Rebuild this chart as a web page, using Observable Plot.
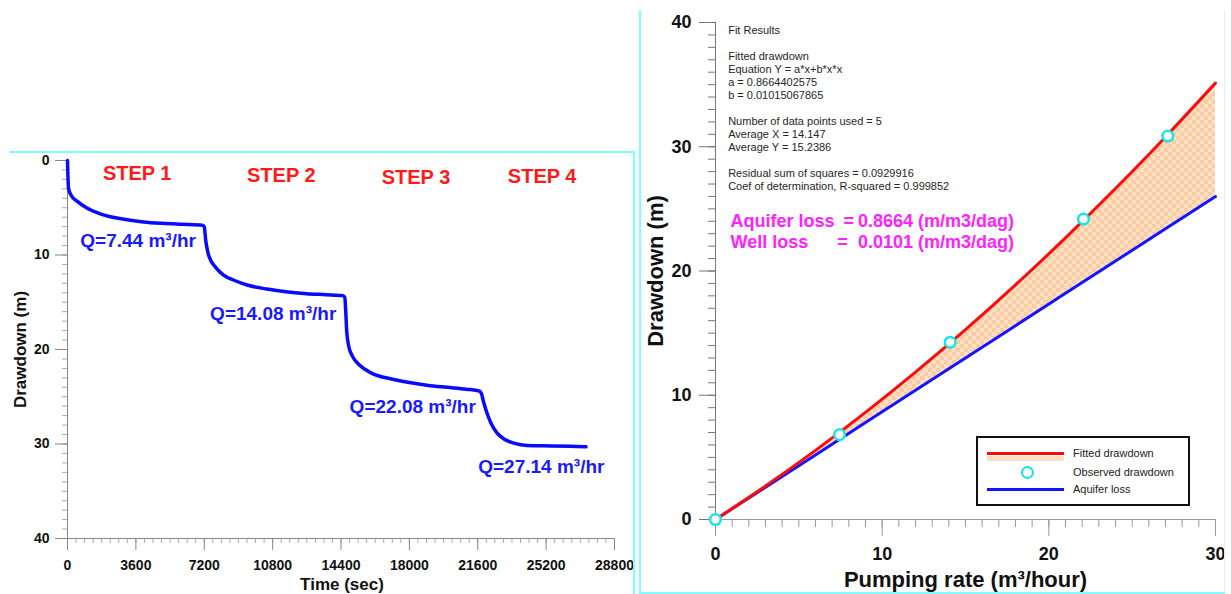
<!DOCTYPE html>
<html><head><meta charset="utf-8">
<script src="https://cdn.jsdelivr.net/npm/d3@7"></script>
<script src="https://cdn.jsdelivr.net/npm/@observablehq/plot@0.6"></script>
<style>
html,body{margin:0;padding:0;background:#fff;}
#wrap{position:relative;width:1231px;height:594px;overflow:hidden;font-family:"Liberation Sans",Arial,sans-serif;}
.panel{position:absolute;}
.bl{position:absolute;background:#7ffcfc;}
#legend{position:absolute;left:976px;top:436px;width:210px;height:66px;border:2px solid #111;background:#fff;}
#legend .sw{position:absolute;}
#legend .lt{position:absolute;left:95px;font-size:11px;color:#222;line-height:12px;}
</style></head><body><div id="wrap"></div>
<script>
// ---------- Left chart data (step drawdown test) ----------
const stepTime = [0,20,60,200,500,1000,1800,2900,4000,5000,6000,7100,7200,7280,7400,7550,7800,8200,8800,9500,10500,11500,12600,13600,14500,14600,14650,14700,14800,15000,15400,16000,17000,18000,19000,20000,21000,21700,21800,21900,22050,22300,22600,23000,23500,24200,25500,26500,27300];
const stepDrawdown = [0,1.5,3.0,3.7,4.3,5.0,5.7,6.2,6.5,6.65,6.75,6.85,7.0,8.5,9.8,10.6,11.3,12.1,12.7,13.2,13.6,13.9,14.1,14.2,14.3,14.5,16,18,19.6,20.7,21.7,22.5,23.1,23.5,23.8,24.0,24.2,24.4,24.7,25.5,26.5,27.8,28.8,29.5,29.9,30.15,30.2,30.25,30.3];
const stepNames = ["STEP 1","STEP 2","STEP 3","STEP 4"];
const stepNameTime = [3670,11257,18349,24989];
const stepNameDepth = [1.41,1.59,1.76,1.66];
const rateNames = ["Q=7.44 m³/hr","Q=14.08 m³/hr","Q=22.08 m³/hr","Q=27.14 m³/hr"];
const rateNameTime = [3717,10830,18176,24946];
const rateNameDepth = [8.47,16.2,26.1,32.45];
const timeTicks = [0,3600,7200,10800,14400,18000,21600,25200,28800];
const depthTicks = [0,10,20,30,40];

// ---------- Right chart data (fit) ----------
const pumpRate = [0,7.44,14.08,22.08,27.14];
const observedDrawdown = [0,6.83,14.27,24.18,30.86];
const fitRate = [0,3,6,9,12,15,18,21,24,27,30];
const fittedDrawdown = [0,2.69,5.56,8.62,11.86,15.28,18.88,22.67,26.64,30.79,35.13];
const aquiferLoss = [0,2.60,5.20,7.80,10.40,13.00,15.60,18.20,20.80,23.40,25.99];
const rateTicks = [0,10,20,30];
const drawTicks = [0,10,20,30,40];
const fitResultLines = ["Fit Results","","Fitted drawdown","Equation Y = a*x+b*x*x","a = 0.8664402575","b = 0.01015067865","","Number of data points used = 5","Average X = 14.147","Average Y = 15.2386","","Residual sum of squares = 0.0929916","Coef of determination, R-squared = 0.999852"];
const lossNames = ["Aquifer loss","Well loss"];
const lossValues = ["0.8664 (m/m3/dag)","0.0101 (m/m3/dag)"];
const legendNames = ["Fitted drawdown","Observed drawdown","Aquifer loss"];

const FONT = '"Liberation Sans",Arial,sans-serif';
const wrap = document.getElementById("wrap");

// ---------- Left chart ----------
const stepRows = stepTime.map((t,i)=>({t, d: stepDrawdown[i]}));
const stepLab = stepNames.map((s,i)=>({s, t: stepNameTime[i], d: stepNameDepth[i]}));
const rateLab = rateNames.map((s,i)=>({s, t: rateNameTime[i], d: rateNameDepth[i]}));

const left = Plot.plot({
  width: 634, height: 442,
  marginLeft: 67, marginRight: 20, marginTop: 8, marginBottom: 56,
  style: {fontFamily: FONT, background: "transparent", overflow: "visible", color: "#111"},
  x: {domain: [0, 28800]},
  y: {domain: [0, 40], reverse: true},
  marks: [
    Plot.axisY(d3.range(0, 41, 1), {tickSize: 5, text: null, stroke: "#aaa", label: null}),
    Plot.axisY(depthTicks, {tickSize: 12, tickPadding: 6, fontSize: 14, fontWeight: "bold", stroke: "#888", fill: "#111", label: null, tickFormat: d3.format("d")}),
    Plot.axisX(d3.range(0, 28801, 450), {tickSize: 5, text: null, stroke: "#aaa", label: null}),
    Plot.axisX(timeTicks, {tickSize: 12, tickPadding: 10, fontSize: 14, fontWeight: "bold", stroke: "#888", fill: "#111", label: null, tickFormat: d3.format("d")}),
    Plot.ruleX([0], {stroke: "#888"}),
    Plot.ruleY([40], {stroke: "#888"}),
    Plot.line(stepRows, {x: "t", y: "d", stroke: "#0a0aff", strokeWidth: 3.5, curve: "monotone-x"}),
    Plot.text(stepLab, {x: "t", y: "d", text: "s", fill: "#ff1a1a", fontSize: 20, fontWeight: "bold"}),
    Plot.text(rateLab, {x: "t", y: "d", text: "s", fill: "#1a1aff", fontSize: 19, fontWeight: "bold"}),
    Plot.text(["Drawdown (m)"], {frameAnchor: "left", textAnchor: "middle", lineAnchor: "middle", rotate: -90, dx: -47, fontSize: 17, fontWeight: "bold", fill: "#111"}),
    Plot.text(["Time (sec)"], {frameAnchor: "bottom", textAnchor: "middle", lineAnchor: "middle", dy: 46, dx: 1, fontSize: 17, fontWeight: "bold", fill: "#111"})
  ]
});
const lp = document.createElement("div");
lp.className = "panel"; lp.style.left = "0px"; lp.style.top = "152px";
lp.appendChild(left); wrap.appendChild(lp);

// ---------- Right chart ----------
const fitRows = fitRate.map((q,i)=>({q, fit: fittedDrawdown[i], aq: aquiferLoss[i]}));
const obsRows = pumpRate.map((q,i)=>({q, d: observedDrawdown[i]}));
const lossRows = lossNames.map((n,i)=>({n, v: lossValues[i], y: [23.98, 22.29][i], eq: [7.68, 7.3][i]}));

const right = Plot.plot({
  width: 591, height: 594,
  marginLeft: 75, marginRight: 16, marginTop: 22, marginBottom: 75,
  style: {fontFamily: FONT, background: "transparent", overflow: "visible", color: "#111"},
  x: {domain: [0, 30]},
  y: {domain: [0, 40]},
  marks: [
    Plot.areaY(fitRows, {x: "q", y1: "aq", y2: "fit", fill: "url(#peachChecker)", curve: "natural"}),
    Plot.axisY(d3.range(0, 41, 1), {tickSize: 7, text: null, stroke: "#777", label: null}),
    Plot.axisY(drawTicks, {tickSize: 16, tickPadding: 8, fontSize: 18, fontWeight: "bold", stroke: "#777", fill: "#111", label: null}),
    Plot.axisX(d3.range(0, 31, 1), {tickSize: 8, text: null, stroke: "#999", label: null}),
    Plot.axisX(rateTicks, {tickSize: 17, tickPadding: 11, fontSize: 18, fontWeight: "bold", stroke: "#999", fill: "#111", label: null}),
    Plot.ruleX([0], {stroke: "#777"}),
    Plot.ruleY([0], {stroke: "#999"}),
    Plot.line(fitRows, {x: "q", y: "aq", stroke: "#1414ff", strokeWidth: 3}),
    Plot.line(fitRows, {x: "q", y: "fit", stroke: "#ff0a0a", strokeWidth: 3, curve: "natural"}),
    Plot.dot(obsRows, {x: "q", y: "d", r: 5.3, stroke: "#19e3e3", strokeWidth: 2.5, fill: "#fff"}),
    Plot.text([fitResultLines.join("\n")], {x: 0.76, y: 39.8, textAnchor: "start", lineAnchor: "top", fontSize: 11, lineHeight: 13/11, fill: "#262626"}),
    Plot.text(lossRows, {x: 0.9, y: "y", text: "n", textAnchor: "start", fontSize: 18, fontWeight: "bold", fill: "#ff22ff"}),
    Plot.text(lossRows, {x: "eq", y: "y", text: () => "=", textAnchor: "start", fontSize: 18, fontWeight: "bold", fill: "#ff22ff"}),
    Plot.text(lossRows, {x: 8.55, y: "y", text: "v", textAnchor: "start", fontSize: 18, fontWeight: "bold", fill: "#ff22ff"}),
    Plot.text(["Drawdown (m)"], {frameAnchor: "left", textAnchor: "middle", lineAnchor: "middle", rotate: -90, dx: -60, fontSize: 22, fontWeight: "bold", fill: "#111"}),
    Plot.text(["Pumping rate (m³/hour)"], {frameAnchor: "bottom", textAnchor: "middle", lineAnchor: "middle", dy: 60, fontSize: 22, fontWeight: "bold", fill: "#111"})
  ]
});
const ns = "http://www.w3.org/2000/svg";
const defs = document.createElementNS(ns, "defs");
defs.innerHTML = '<pattern id="peachChecker" width="8" height="8" patternUnits="userSpaceOnUse"><rect width="8" height="8" fill="#fde0c4"/><rect width="4" height="4" fill="#f9cca4"/><rect x="4" y="4" width="4" height="4" fill="#f9cca4"/></pattern>';
right.insertBefore(defs, right.firstChild);
const rp = document.createElement("div");
rp.className = "panel"; rp.style.left = "640px"; rp.style.top = "0px";
rp.appendChild(right); wrap.appendChild(rp);

// ---------- Legend ----------
const lg = document.createElement("div");
lg.id = "legend";
lg.innerHTML =
  '<div class="sw" style="left:9px;top:18px;width:77px;height:5px;background:#fde0c4"></div>' +
  '<div class="sw" style="left:9px;top:14px;width:77px;height:3px;background:#ff0a0a"></div>' +
  '<div class="sw" style="left:43px;top:28px;width:9px;height:9px;border:2.5px solid #19e3e3;border-radius:50%;background:#fff"></div>' +
  '<div class="sw" style="left:9px;top:50px;width:77px;height:3px;background:#1414ff"></div>' +
  '<div class="lt" style="top:9px">' + legendNames[0] + '</div>' +
  '<div class="lt" style="top:28px">' + legendNames[1] + '</div>' +
  '<div class="lt" style="top:45px">' + legendNames[2] + '</div>';
wrap.appendChild(lg);

// ---------- Panel borders ----------
function line(l,t,w,h,c){const d=document.createElement("div");d.className="bl";d.style.cssText=`left:${l}px;top:${t}px;width:${w}px;height:${h}px;`+(c?`background:${c}`:"");wrap.appendChild(d);}
line(10,151,624,2);
line(633,151,2,443);
line(639,10,2,584);
line(639,592,586,2);
line(1224,10,1,583,"#ececec");
</script></body></html>
